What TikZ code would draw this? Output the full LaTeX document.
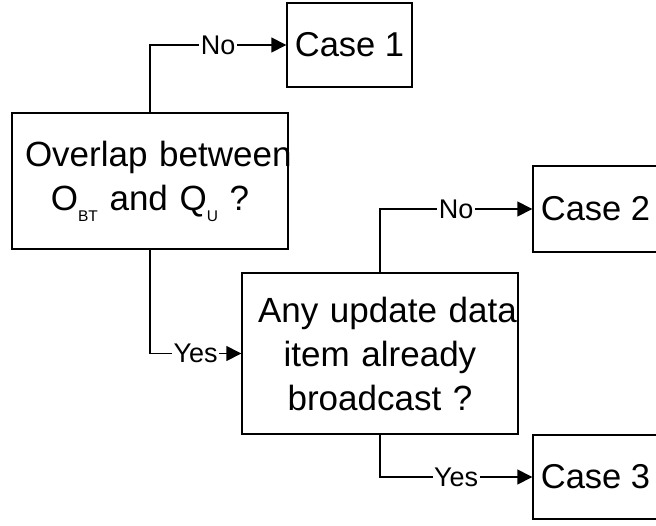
\documentclass[tikz,border=0pt]{standalone}
\usepackage{fontspec}
\setmainfont{Liberation Sans}
\usetikzlibrary{arrows.meta}
\newcommand\lowsub[1]{\raisebox{-0.32em}{\fontsize{15.5}{15.5}\selectfont #1}}
\tikzset{
  qbox/.style={draw,line width=1.4pt,align=center,inner ysep=0pt,
    font=\fontsize{35}{44}\selectfont},
  casebox/.style={draw,line width=1.4pt,inner sep=0pt,minimum width=125pt,
    font=\fontsize{34.5}{40}\selectfont},
  flow/.style={line width=1.4pt,-{Triangle[length=15pt,width=15pt]}},
  lbl/.style={fill=white,inner sep=1.5pt,pos=0.75,font=\fontsize{27}{27}\selectfont}
}
\begin{document}
\begin{tikzpicture}[x=1pt,y=-1pt]
  \useasboundingbox (0,0) rectangle (656,525);
  %% questions
  \node[qbox,text width=250pt,inner xsep=13pt,minimum height=136pt] (overlap) at (150,181)
    {\mbox{Overlap between}\\O\lowsub{BT} and Q\lowsub{U} ?};
  \node[qbox,text width=244pt,inner xsep=16pt,minimum height=161pt] (update) at (380,353.5)
    {\mbox{Any update data}\\item already\\broadcast ?};
  %% cases
  \node[casebox,minimum height=84pt] (case1) at (349.5,45) {Case 1};
  \node[casebox,minimum height=86pt] (case2) at (595.5,209) {Case 2};
  \node[casebox,minimum height=84pt] (case3) at (595.5,477) {Case 3};
  %% decisions
  \draw[flow] (overlap.north) |- node[lbl] {No} (case1.west);
  \draw[flow] (overlap.south) |- node[lbl] {Yes} (update.west);
  \draw[flow] (update.north) |- node[lbl] {No} (case2.west);
  \draw[flow] (update.south) |- node[lbl] {Yes} (case3.west);
\end{tikzpicture}
\end{document}
